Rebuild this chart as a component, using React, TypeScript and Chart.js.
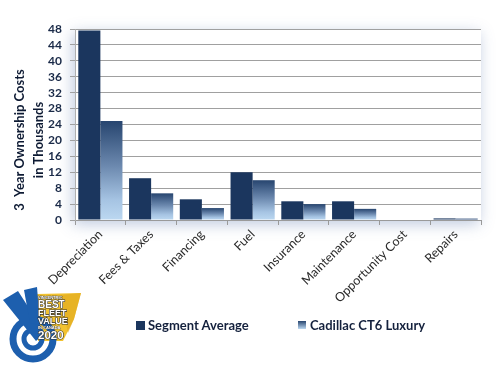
import React, { useEffect, useRef } from "react";
import { Chart, registerables } from "chart.js";

Chart.register(...registerables);

const categories = [
  "Depreciation",
  "Fees & Taxes",
  "Financing",
  "Fuel",
  "Insurance",
  "Maintenance",
  "Opportunity Cost",
  "Repairs",
];
const segmentAverage = [47.6, 10.5, 5.2, 12.0, 4.7, 4.7, 0, 0.4];
const cadillacCT6 = [24.9, 6.7, 3.0, 10.0, 4.0, 2.8, 0, 0.35];
const seriesNames = ["Segment Average", "Cadillac CT6 Luxury"];
const yTitleLines = ["3  Year Ownership Costs", "in Thousands"];
const yMax = 48;
const yStep = 4;

const FONT = "Lato, 'Open Sans', 'Liberation Sans', sans-serif";
const NAVY = "#1b365e";

const App: React.FC = () => {
  const ref = useRef<HTMLCanvasElement | null>(null);

  useEffect(() => {
    document.body.style.margin = "0";
    const canvas = ref.current;
    if (!canvas) return;

    const gradientFor = (ctx: any) => {
      const chart = ctx.chart;
      const y = chart.scales && chart.scales.y;
      const c = chart.ctx;
      if (!y || ctx.dataIndex === undefined) return "#6f8db3";
      const v = ctx.raw as number;
      const top = y.getPixelForValue(v);
      const bottom = y.getPixelForValue(0);
      if (!isFinite(top) || !isFinite(bottom) || bottom - top < 3) return "#2d4b78";
      const g = c.createLinearGradient(0, top, 0, bottom);
      g.addColorStop(0, "#27456f");
      g.addColorStop(0.45, "#6b88ae");
      g.addColorStop(0.8, "#a6c4e3");
      g.addColorStop(1, "#bcd8f1");
      return g;
    };

    const plotShadow = {
      id: "plotShadow",
      beforeDraw(chart: any) {
        const { ctx, chartArea } = chart;
        ctx.save();
        ctx.shadowColor = "rgba(70,100,160,0.35)";
        ctx.shadowBlur = 14;
        ctx.shadowOffsetX = -2;
        ctx.shadowOffsetY = 4;
        ctx.fillStyle = "#ffffff";
        ctx.fillRect(
          chartArea.left,
          chartArea.top,
          chartArea.right - chartArea.left,
          chartArea.bottom - chartArea.top
        );
        ctx.restore();
      },
    };

    const yTitle = {
      id: "yTitle",
      afterDraw(chart: any) {
        const { ctx } = chart;
        ctx.save();
        ctx.fillStyle = "#0d1a33";
        ctx.font = `bold 13px ${FONT}`;
        ctx.textAlign = "center";
        ctx.textBaseline = "middle";
        const xs = [20, 39];
        yTitleLines.forEach((t, i) => {
          ctx.save();
          ctx.translate(xs[i], 140);
          ctx.rotate(-Math.PI / 2);
          ctx.fillText(t, 0, 0);
          ctx.restore();
        });
        ctx.restore();
      },
    };

    const chart = new Chart(canvas, {
      type: "bar",
      data: {
        labels: categories,
        datasets: [
          {
            label: seriesNames[0],
            data: segmentAverage,
            backgroundColor: NAVY,
            borderWidth: 0,
          },
          {
            label: seriesNames[1],
            data: cadillacCT6,
            backgroundColor: gradientFor as any,
            borderWidth: 0,
          },
        ],
      },
      options: {
        responsive: false,
        animation: false,
        layout: { padding: { left: 0, top: 29, right: 19, bottom: 0 } },
        datasets: {
          bar: { categoryPercentage: 0.87, barPercentage: 1.0 },
        },
        plugins: {
          legend: { display: false },
          tooltip: { enabled: false },
          title: { display: false },
        },
        scales: {
          x: {
            grid: {
              display: true,
              drawOnChartArea: false,
              drawTicks: true,
              tickLength: 5,
              color: "#9a9a9a",
              offset: true,
            },
            border: { display: true, color: "#9a9a9a", width: 1 },
            ticks: {
              color: "#2a2a2a",
              font: { family: FONT, size: 12.5 },
              minRotation: 45,
              maxRotation: 45,
              autoSkip: false,
              padding: 2,
            },
            afterFit: (s: any) => {
              s.height = 145;
            },
          },
          y: {
            min: 0,
            max: yMax,
            grid: {
              color: "#a0a0a0",
              lineWidth: 1,
              tickLength: 5,
            },
            border: { display: true, color: "#b0b0b0", width: 1 },
            ticks: {
              stepSize: yStep,
              autoSkip: false,
              color: "#1a2a48",
              font: { family: FONT, size: 12, weight: "bold" },
              padding: 8,
            },
            afterFit: (s: any) => {
              s.width = 75;
            },
          },
        },
      },
      plugins: [plotShadow, yTitle],
    });

    return () => chart.destroy();
  }, []);

  const legendText: React.CSSProperties = {
    fontFamily: FONT,
    fontWeight: 700,
    fontSize: 13,
    color: "#14213d",
    whiteSpace: "nowrap",
  };

  return (
    <div style={{ position: "absolute", left: 0, top: 0, width: 500, height: 365, background: "#fff" }}>
      <canvas ref={ref} width={500} height={365} style={{ position: "absolute", left: 0, top: 0 }} />
      <div style={{ position: "absolute", left: 136, top: 317, display: "flex", alignItems: "center" }}>
        <span style={{ display: "inline-block", width: 9, height: 9, background: NAVY, marginRight: 3 }} />
        <span style={legendText}>{seriesNames[0]}</span>
      </div>
      <div style={{ position: "absolute", left: 298, top: 317, display: "flex", alignItems: "center" }}>
        <span
          style={{
            display: "inline-block",
            width: 8,
            height: 8,
            background: "linear-gradient(#27456f, #bcd8f1)",
            marginRight: 4,
          }}
        />
        <span style={legendText}>{seriesNames[1]}</span>
      </div>
      <svg
        width={84}
        height={82}
        viewBox="0 0 84 82"
        style={{ position: "absolute", left: 0, top: 283 }}
      >
        <polygon points="37,11 81,10 74,36 63,58 38,58" fill="#f2c230" />
        <polygon points="60,12 81,10 74,36 68,50" fill="#e0a91e" opacity="0.6" />
        <circle cx="33" cy="56" r="20" fill="none" stroke="#1d5fae" strokeWidth="7" />
        <circle cx="33" cy="56" r="9" fill="none" stroke="#1d5fae" strokeWidth="5" />
        <polygon points="3,17 18,8 45,50 36,58" fill="#1d5fae" />
        <polygon points="24,7 37,4 40,42 30,40" fill="#1d5fae" />
        <g
          fontFamily="'Liberation Sans', Arial, sans-serif"
          fontWeight="bold"
          fill="#ffffff"
          stroke="#333333"
          strokeWidth="1.2"
          style={{ paintOrder: "stroke" } as any}
        >
          <text x="38" y="16" fontSize="4" strokeWidth="0.6">VINCENTRIC</text>
          <text x="38" y="24.5" fontSize="10">BEST</text>
          <text x="38" y="32.5" fontSize="9">FLEET</text>
          <text x="38" y="40.5" fontSize="9">VALUE</text>
          <text x="38" y="45.5" fontSize="4" strokeWidth="0.6">IN CANADA</text>
          <text x="38" y="56" fontSize="11.5">2020</text>
        </g>
      </svg>
    </div>
  );
};

export default App;
